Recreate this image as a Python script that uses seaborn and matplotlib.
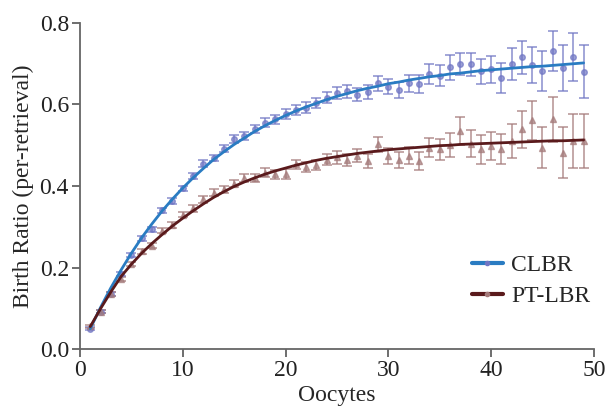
import numpy as np
import pandas as pd
import matplotlib
matplotlib.use('Agg')
import matplotlib.pyplot as plt
from matplotlib.lines import Line2D
import seaborn as sns

# data
oocytes = list(range(1, 50))

clbr = [0.050, 0.092, 0.136, 0.183, 0.231, 0.272, 0.294, 0.340, 0.363, 0.394,
        0.425, 0.455, 0.469, 0.492, 0.515, 0.523, 0.539, 0.555, 0.564, 0.576,
        0.586, 0.592, 0.604, 0.617, 0.629, 0.632, 0.624, 0.630, 0.652, 0.644,
        0.636, 0.652, 0.650, 0.675, 0.671, 0.691, 0.700, 0.699, 0.681, 0.686,
        0.664, 0.699, 0.716, 0.696, 0.682, 0.731, 0.690, 0.717, 0.680]
clbr_err = [0.004, 0.004, 0.005, 0.005, 0.005, 0.006, 0.006, 0.006, 0.007, 0.007,
            0.008, 0.008, 0.008, 0.009, 0.009, 0.010, 0.010, 0.011, 0.011, 0.012,
            0.012, 0.013, 0.013, 0.014, 0.015, 0.015, 0.016, 0.017, 0.018, 0.019,
            0.020, 0.021, 0.022, 0.024, 0.025, 0.030, 0.027, 0.028, 0.030, 0.034,
            0.037, 0.040, 0.041, 0.044, 0.049, 0.049, 0.056, 0.059, 0.065]
clbr_fit = [0.050, 0.102, 0.150, 0.194, 0.235, 0.273, 0.307, 0.339, 0.368, 0.395,
            0.420, 0.443, 0.465, 0.484, 0.502, 0.518, 0.534, 0.548, 0.561, 0.573,
            0.584, 0.594, 0.603, 0.612, 0.620, 0.627, 0.634, 0.640, 0.645, 0.651,
            0.655, 0.660, 0.664, 0.668, 0.671, 0.675, 0.677, 0.680, 0.683, 0.685,
            0.687, 0.689, 0.691, 0.693, 0.694, 0.696, 0.698, 0.700, 0.702]

ptlbr = [0.056, 0.092, 0.134, 0.171, 0.208, 0.240, 0.253, 0.290, 0.305, 0.330,
         0.345, 0.367, 0.384, 0.392, 0.406, 0.420, 0.420, 0.433, 0.429, 0.429,
         0.453, 0.447, 0.452, 0.465, 0.470, 0.463, 0.474, 0.461, 0.502, 0.474,
         0.463, 0.474, 0.461, 0.494, 0.490, 0.501, 0.535, 0.504, 0.490, 0.498,
         0.490, 0.510, 0.539, 0.561, 0.494, 0.564, 0.482, 0.510, 0.510]
ptlbr_err = [0.004, 0.004, 0.005, 0.005, 0.005, 0.006, 0.006, 0.006, 0.007, 0.007,
             0.008, 0.008, 0.008, 0.009, 0.009, 0.010, 0.010, 0.011, 0.011, 0.012,
             0.012, 0.013, 0.013, 0.014, 0.015, 0.015, 0.016, 0.017, 0.018, 0.019,
             0.020, 0.021, 0.022, 0.024, 0.025, 0.030, 0.034, 0.034, 0.035, 0.034,
             0.037, 0.042, 0.046, 0.048, 0.050, 0.055, 0.063, 0.067, 0.067]
ptlbr_fit = [0.055, 0.099, 0.140, 0.178, 0.208, 0.235, 0.259, 0.281, 0.302, 0.321,
             0.339, 0.356, 0.372, 0.386, 0.399, 0.410, 0.420, 0.429, 0.437, 0.444,
             0.451, 0.457, 0.463, 0.468, 0.472, 0.476, 0.480, 0.483, 0.486, 0.489,
             0.491, 0.493, 0.495, 0.497, 0.499, 0.500, 0.502, 0.503, 0.504, 0.505,
             0.506, 0.507, 0.508, 0.509, 0.510, 0.511, 0.511, 0.512, 0.513]

series = ['CLBR', 'PT-LBR']

df = pd.DataFrame({
    'Oocytes': oocytes * 2,
    'ratio': clbr + ptlbr,
    'err': clbr_err + ptlbr_err,
    'fit': clbr_fit + ptlbr_fit,
    'group': ['CLBR'] * len(oocytes) + ['PT-LBR'] * len(oocytes),
})

line_colors = {'CLBR': '#2a7cc2', 'PT-LBR': '#5a1a1c'}
point_colors = {'CLBR': '#7076c4', 'PT-LBR': '#a47a7a'}
markers = {'CLBR': 'o', 'PT-LBR': '^'}

sns.set_style('ticks')
plt.rcParams['font.family'] = ['Liberation Serif', 'DejaVu Serif']
plt.rcParams['font.size'] = 17

fig = plt.figure(figsize=(6.06, 4.07), dpi=100)
ax = fig.add_axes([0.132, 0.1425, 0.848, 0.801])

for g in series:
    sub = df[df['group'] == g]
    ax.errorbar(sub['Oocytes'], sub['ratio'], yerr=sub['err'], fmt=markers[g],
                color=point_colors[g], ecolor=point_colors[g], alpha=0.7,
                markersize=4, capsize=3.5, elinewidth=1.3, capthick=1.3, zorder=2)

sns.lineplot(data=df, x='Oocytes', y='fit', hue='group', palette=line_colors,
             linewidth=2.0, legend=False, ax=ax, zorder=3)

ax.set_xlim(0, 50)
ax.set_ylim(0, 0.8)
ax.set_xticks([0, 10, 20, 30, 40, 50])
ax.set_yticks([0.0, 0.2, 0.4, 0.6, 0.8])
ax.set_yticklabels(['0.0', '0.2', '0.4', '0.6', '0.8'])
ax.set_xlabel('Oocytes', fontsize=17, labelpad=3)
ax.set_ylabel('Birth Ratio (per-retrieval)', fontsize=17, labelpad=4)
ax.tick_params(axis='both', labelsize=17, length=6, width=1.2, color='#555555',
               labelcolor='#222222', pad=2)
for side in ['left', 'bottom']:
    ax.spines[side].set_color('#666666')
    ax.spines[side].set_linewidth(1.3)
sns.despine(ax=ax)

handles = [Line2D([0], [0], color=line_colors[g], linewidth=3, marker='o',
                  markersize=3, markerfacecolor=point_colors[g],
                  markeredgecolor=point_colors[g]) for g in series]
ax.legend(handles, series, loc='center left', bbox_to_anchor=(0.74, 0.21),
          frameon=False, fontsize=17, handlelength=1.3, handletextpad=0.35,
          labelspacing=0.4, borderpad=0)

fig.savefig('out.png', dpi=100)
